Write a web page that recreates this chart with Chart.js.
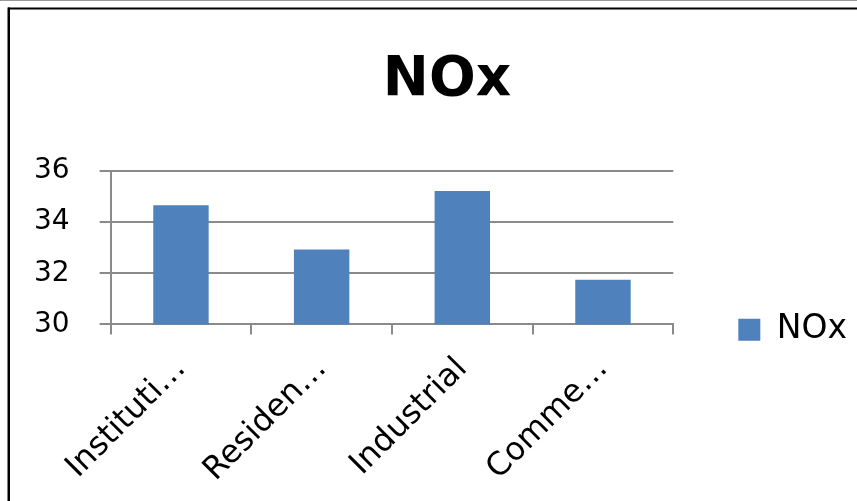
<!DOCTYPE html>
<html>
<head>
<meta charset="utf-8">
<script src="https://cdn.jsdelivr.net/npm/chart.js@4"></script>
<style>
  html, body { margin: 0; padding: 0; background: #fff; }
  #wrap { width: 857px; height: 501px; position: relative; }
</style>
</head>
<body>
<div id="wrap"><canvas id="c" width="857" height="501"></canvas></div>
<script>
const categories = ['Instituti…', 'Residen…', 'Industrial', 'Comme…'];
const seriesName = 'NOx';
const chartTitle = 'NOx';
const noxValues = [34.66, 32.93, 35.22, 31.75];
const yTickValues = [30, 32, 34, 36];

const GRID = '#8a8a8a';

const framePlugin = {
  id: 'frame',
  beforeDraw(chart) {
    const ctx = chart.ctx;
    ctx.save();
    ctx.fillStyle = '#fff';
    ctx.fillRect(0, 0, chart.width, chart.height);
    ctx.fillStyle = '#9a9a9a';
    ctx.fillRect(0, 0, chart.width, 1);
    ctx.fillStyle = '#000';
    ctx.fillRect(8, 7.5, chart.width - 8, 2);
    ctx.fillRect(7.5, 7.5, 2.5, chart.height - 7.5);
    ctx.restore();
  }
};

new Chart(document.getElementById('c'), {
  type: 'bar',
  data: {
    labels: categories,
    datasets: [{
      label: seriesName,
      data: noxValues,
      backgroundColor: '#4f81bd',
      borderWidth: 0,
      categoryPercentage: 1,
      barPercentage: 0.394
    }]
  },
  options: {
    responsive: false,
    animation: false,
    devicePixelRatio: 1,
    layout: { padding: { left: 4, right: 0, top: 10, bottom: -4 } },
    plugins: {
      title: {
        display: true,
        text: '\u2002\u200A' + chartTitle,
        color: '#000',
        font: { family: 'DejaVu Sans', size: 55, weight: 'bold' },
        padding: { top: 38, bottom: 57 }
      },
      legend: {
        display: true,
        position: 'right',
        align: 'start',
        fullSize: true,
        title: { display: true, text: ' ', padding: { top: 237, bottom: 0 }, font: { size: 1 } },
        labels: {
          color: '#000',
          font: { family: 'DejaVu Sans', size: 33 },
          boxWidth: 22,
          boxHeight: 22,
          padding: 65
        }
      },
      tooltip: { enabled: false }
    },
    scales: {
      x: {
        offset: true,
        grid: {
          offset: true,
          drawOnChartArea: false,
          drawTicks: true,
          tickLength: 10,
          color: GRID,
          lineWidth: 2
        },
        border: { display: true, color: GRID, width: 2 },
        ticks: {
          color: '#000',
          font: { family: 'DejaVu Sans', size: 32, lineHeight: 1 },
          minRotation: 45,
          maxRotation: 45,
          autoSkip: false,
          padding: 18
        }
      },
      y: {
        min: 30,
        max: 36,
        afterBuildTicks(axis) { axis.ticks = yTickValues.map(v => ({ value: v })); },
        grid: {
          drawTicks: true,
          tickLength: 11,
          color: GRID,
          lineWidth: 2
        },
        border: { display: true, color: GRID, width: 2 },
        ticks: {
          color: '#000',
          font: { family: 'DejaVu Sans', size: 28 },
          padding: 30
        }
      }
    }
  },
  plugins: [framePlugin]
});
</script>
</body>
</html>
